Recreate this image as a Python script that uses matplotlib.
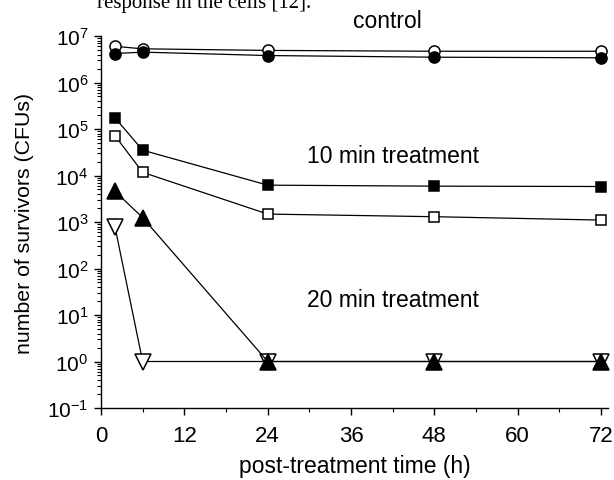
import matplotlib
matplotlib.use("Agg")
import matplotlib.pyplot as plt
from matplotlib.ticker import LogLocator, MultipleLocator, FixedLocator, NullFormatter

plt.rcParams['font.family'] = ['Liberation Sans', 'DejaVu Sans']
plt.rcParams['mathtext.fontset'] = 'custom'
plt.rcParams['mathtext.rm'] = 'Liberation Sans'
plt.rcParams['mathtext.it'] = 'Liberation Sans:italic'

time = [2, 6, 24, 48, 72]
control_open = [6.0e6, 5.3e6, 4.9e6, 4.7e6, 4.7e6]
control_filled = [4.2e6, 4.5e6, 3.8e6, 3.5e6, 3.4e6]
min10_filled = [1.75e5, 3.5e4, 6.2e3, 5.9e3, 5.8e3]
min10_open = [7.2e4, 1.17e4, 1.48e3, 1.3e3, 1.1e3]
min20_filled = [4.6e3, 1.24e3, 1, 1, 1]
min20_open = [8.0e2, 1, 1, 1, 1]

xticks = [0, 12, 24, 36, 48, 60, 72]
ytick_exps = [-1, 0, 1, 2, 3, 4, 5, 6, 7]

W, H = 614, 481
fig = plt.figure(figsize=(W/100, H/100), dpi=100)
ax = fig.add_axes([101/W, 1-409/H, (608-101)/W, (409-37)/H])

fs = 16.5
lw = 0.9

def series(y, marker, filled, ms):
    ax.plot(time, y, color='black', lw=lw, marker=marker, ms=ms,
            mfc='black' if filled else 'white', mec='black', mew=1.1,
            clip_on=False, zorder=3)

series(control_open, 'o', False, 8)
series(control_filled, 'o', True, 8)
series(min10_open, 's', False, 7.5)
series(min10_filled, 's', True, 7.5)
series(min20_open, 'v', False, 11)
series(min20_filled, '^', True, 11)

ax.set_yscale('log')
ax.set_xlim(0, 73)
ax.set_ylim(0.1, 1e7)
ax.xaxis.set_major_locator(FixedLocator(xticks))
ax.xaxis.set_minor_locator(MultipleLocator(6))
ax.yaxis.set_major_locator(FixedLocator([10.0**e for e in ytick_exps]))
ax.set_yticklabels([r'$\mathregular{10^{%d}}$' % e for e in ytick_exps])
ax.yaxis.set_minor_locator(LogLocator(base=10, subs=range(2, 10), numticks=20))
ax.yaxis.set_minor_formatter(NullFormatter())

for s in ['top', 'right']:
    ax.spines[s].set_visible(False)
for s in ['left', 'bottom']:
    ax.spines[s].set_linewidth(1.0)

ax.tick_params(axis='x', which='major', direction='out', length=5, width=1.0, labelsize=16, pad=7)
ax.tick_params(axis='y', which='major', direction='out', length=5, width=1.0, labelsize=15, pad=4)
ax.tick_params(which='minor', direction='out', length=3, width=0.8)

ax.set_xlabel('post-treatment time (h)', fontsize=16.5)
ax.xaxis.set_label_coords(0.5, -(455-409)/372)
ax.xaxis.label.set_va('top')
ax.set_ylabel('number of survivors (CFUs)', fontsize=15.3)
ax.yaxis.set_label_coords((34-101)/507, 0.5)

ax.text(41.2, 2.2e7, 'control', fontsize=fs, ha='center', va='center')
ax.text(42.0, 2.7e4, '10 min treatment', fontsize=fs, ha='center', va='center')
ax.text(42.0, 21.5, '20 min treatment', fontsize=fs, ha='center', va='center')

fig.text(97/W, 1-8/H, 'response in the cells [12].', fontsize=15,
         family='Liberation Serif', ha='left', va='baseline')

fig.savefig('out.png', dpi=100)
